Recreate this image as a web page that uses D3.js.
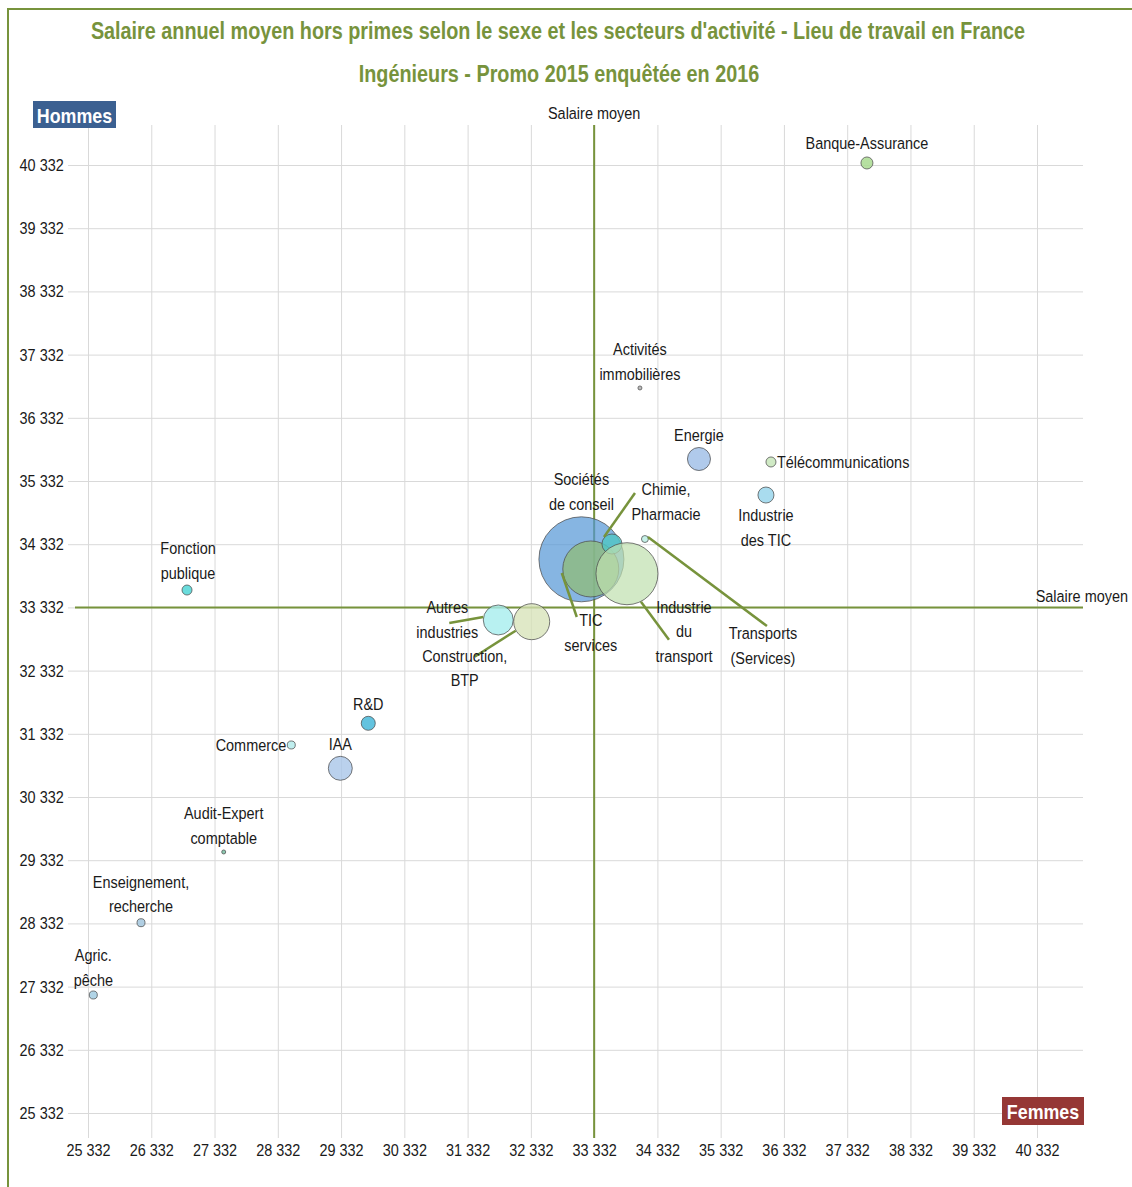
<!DOCTYPE html>
<html>
<head>
<meta charset="utf-8">
<script src="https://cdn.jsdelivr.net/npm/d3@7/dist/d3.min.js"></script>
<style>
  html, body { margin: 0; padding: 0; background: #fff; }
  svg { display: block; }
  text { font-family: "Liberation Sans", Arial, sans-serif; }
</style>
</head>
<body>
<svg id="chart" width="1132" height="1187"></svg>
<script>
// ---------- DATA ----------
const secteurs = [
  "Agric. pêche", "Enseignement, recherche", "Audit-Expert comptable", "Commerce",
  "IAA", "R&D", "Fonction publique", "Autres industries", "Construction, BTP",
  "Sociétés de conseil", "TIC services", "Chimie, Pharmacie", "Industrie du transport",
  "Transports (Services)", "Energie", "Télécommunications", "Industrie des TIC",
  "Activités immobilières", "Banque-Assurance"
];
// salaire annuel moyen hors primes (€)
const salaireFemmes = [
  25416, 26170, 27477, 28545, 29320, 29762, 26897, 31817, 32345,
  33131, 33279, 33614, 33851, 34135, 34989, 36127, 36048, 34056, 37644
];
const salaireHommes = [
  27199, 28343, 29462, 31155, 30786, 31498, 33607, 33133, 33106,
  34093, 33940, 34335, 33865, 34414, 35680, 35633, 35110, 36804, 40364
];
// effectifs (taille des bulles)
const effectifs = [
  16, 16, 4, 16, 143, 49, 25, 224, 323,
  1800, 781, 100, 958, 12, 132, 25, 64, 4, 36
];
const moyenneFemmes = 33332;
const moyenneHommes = 33332;
const tickValues = d3.range(25332, 40333, 1000);

// ---------- STYLE / LAYOUT ----------
const couleurs = [
  "#A9CFE3", "#A9CAE0", "#7FC4A8", "#B8ECEC", "#A9C6E8", "#52BCDC", "#5AD8D8",
  "#A6EDEE", "#D6E2B6", "#5295D6", "#8FBC7E", "#4FC6C4", "#BFE0AE", "#BFEFE6",
  "#9CBDE6", "#CBE8BF", "#9AD6EC", "#B5B5B5", "#A9DA90"
];
const opacites = [0.9,0.9,0.9,0.9,0.8,0.9,0.9,0.8,0.75,0.7,0.8,0.8,0.7,0.9,0.8,0.9,0.85,0.9,0.85];
// label: lines, offset (px) of first line centre from bubble centre, anchor
const etiquettes = [
  {l:["Agric.","pêche"], dx:0, dy:-40, a:"middle"},
  {l:["Enseignement,","recherche"], dx:0, dy:-41, a:"middle"},
  {l:["Audit-Expert","comptable"], dx:0, dy:-39, a:"middle"},
  {l:["Commerce"], dx:-5, dy:0, a:"end"},
  {l:["IAA"], dx:0, dy:-24, a:"middle"},
  {l:["R&D"], dx:0, dy:-19, a:"middle"},
  {l:["Fonction","publique"], dx:1, dy:-42, a:"middle"},
  {l:["Autres","industries"], dx:-51, dy:-13, a:"middle", lead:[-15,-3,-49,3]},
  {l:["Construction,","BTP"], dx:-67, dy:34, a:"middle", lead:[-16,9,-57,35]},
  {l:["Sociétés","de conseil"], dx:0, dy:-80, a:"middle"},
  {l:["TIC","services"], dx:0, dy:51, a:"middle", lead:[-29,4,-14,48]},
  {l:["Chimie,","Pharmacie"], dx:54, dy:-55, a:"middle", lead:[-8,-7,23,-51]},
  {l:["Industrie","du","transport"], dx:57, dy:33, a:"middle", lead:[14,28,42,66]},
  {l:["Transports","(Services)"], dx:118, dy:94, a:"middle", lead:[3,-2,122,87]},
  {l:["Energie"], dx:0, dy:-24, a:"middle"},
  {l:["Télécommunications"], dx:6, dy:0, a:"start"},
  {l:["Industrie","des TIC"], dx:0, dy:20, a:"middle"},
  {l:["Activités","immobilières"], dx:0, dy:-39, a:"middle"},
  {l:["Banque-Assurance"], dx:0, dy:-20, a:"middle"}
];
const vert = "#77933C";
const ink = "#1a1a1a";
const K = 0.85; // horizontal condensing of text (narrow font look)
const FS = 17;
const plot = {left: 68, right: 1083, top: 125, bottom: 1138};

const svg = d3.select("#chart");
const fr = d3.formatLocale({decimal: ",", thousands: " ", grouping: [3], currency: ["", " €"]});
const fmt = fr.format(",d");

const x = d3.scaleLinear().domain([25332, 40332]).range([88, 1037]);
const y = d3.scaleLinear().domain([25332, 40332]).range([1113, 165]);
const r = d3.scaleSqrt().domain([0, 1800]).range([0, 42.5]);

// condensed text helper: places text with its anchor at (px,py)
function txt(parent, px, py, s, opts = {}) {
  return parent.append("text")
    .attr("transform", `scale(${K},1)`)
    .attr("x", px / K).attr("y", py)
    .attr("text-anchor", opts.anchor || "middle")
    .attr("dominant-baseline", "central")
    .attr("font-size", opts.size || FS)
    .attr("font-weight", opts.weight || "normal")
    .attr("fill", opts.fill || ink)
    .text(s);
}

// frame
svg.append("path").attr("d", "M8,1187 L8,9 L1132,9")
  .attr("fill", "none").attr("stroke", vert).attr("stroke-width", 2);

// titles
txt(svg, 558, 31, "Salaire annuel moyen hors primes selon le sexe et les secteurs d'activité - Lieu de travail en France",
  {size: 23.3, weight: "bold", fill: vert});
txt(svg, 559, 74, "Ingénieurs - Promo 2015 enquêtée en 2016", {size: 23.3, weight: "bold", fill: vert});

// y axis + horizontal grid
const yAxis = svg.append("g").attr("transform", `translate(${plot.left},0)`)
  .call(d3.axisLeft(y).tickValues(tickValues).tickFormat(fmt)
    .tickSize(-(plot.right - plot.left)).tickPadding(5));
yAxis.select(".domain").remove();
yAxis.selectAll("line").attr("stroke", "#D9D9D9").attr("stroke-width", 1);
yAxis.selectAll("text").attr("font-size", FS).attr("fill", ink)
  .attr("font-family", "Liberation Sans, Arial, sans-serif").attr("transform", `scale(${K},1)`);

// x axis + vertical grid
const xAxis = svg.append("g").attr("transform", `translate(0,${plot.bottom})`)
  .call(d3.axisBottom(x).tickValues(tickValues).tickFormat(fmt)
    .tickSize(-(plot.bottom - plot.top)).tickPadding(6));
xAxis.select(".domain").remove();
xAxis.selectAll("line").attr("stroke", "#D9D9D9").attr("stroke-width", 1);
xAxis.selectAll("text").attr("font-size", FS).attr("fill", ink)
  .attr("font-family", "Liberation Sans, Arial, sans-serif").attr("transform", `scale(${K},1)`);

// mean lines
svg.append("line").attr("x1", 75).attr("x2", plot.right)
  .attr("y1", y(moyenneHommes)).attr("y2", y(moyenneHommes))
  .attr("stroke", vert).attr("stroke-width", 2);
svg.append("line").attr("x1", x(moyenneFemmes)).attr("x2", x(moyenneFemmes))
  .attr("y1", plot.top).attr("y2", plot.bottom)
  .attr("stroke", vert).attr("stroke-width", 2);
txt(svg, x(moyenneFemmes), 113, "Salaire moyen");
txt(svg, 1128, y(moyenneHommes) - 11, "Salaire moyen", {anchor: "end"});

// bubbles
const data = secteurs.map((s, i) => ({
  s, f: salaireFemmes[i], h: salaireHommes[i], n: effectifs[i],
  c: couleurs[i], o: opacites[i], e: etiquettes[i]
}));
svg.append("g").selectAll("circle").data(data).join("circle")
  .attr("cx", d => x(d.f)).attr("cy", d => y(d.h)).attr("r", d => r(d.n))
  .attr("fill", d => d.c).attr("fill-opacity", d => d.o)
  .attr("stroke", "#4d4d4d").attr("stroke-opacity", 0.75).attr("stroke-width", 1);

// leader lines
svg.append("g").selectAll("line").data(data.filter(d => d.e.lead)).join("line")
  .attr("x1", d => x(d.f) + d.e.lead[0]).attr("y1", d => y(d.h) + d.e.lead[1])
  .attr("x2", d => x(d.f) + d.e.lead[2]).attr("y2", d => y(d.h) + d.e.lead[3])
  .attr("stroke", vert).attr("stroke-width", 2.5);

// labels
const labG = svg.append("g");
data.forEach(d => {
  d.e.l.forEach((line, k) => {
    txt(labG, x(d.f) + d.e.dx, y(d.h) + d.e.dy + k * 24.7, line, {anchor: d.e.a});
  });
});

// Hommes / Femmes badges
svg.append("rect").attr("x", 33).attr("y", 101).attr("width", 83).attr("height", 27).attr("fill", "#3B6091");
txt(svg, 74.5, 115, "Hommes", {size: 21, weight: "bold", fill: "#fff"});
svg.append("rect").attr("x", 1002).attr("y", 1097).attr("width", 82).attr("height", 28).attr("fill", "#953735");
txt(svg, 1043, 1111.5, "Femmes", {size: 21, weight: "bold", fill: "#fff"});
</script>
</body>
</html>
